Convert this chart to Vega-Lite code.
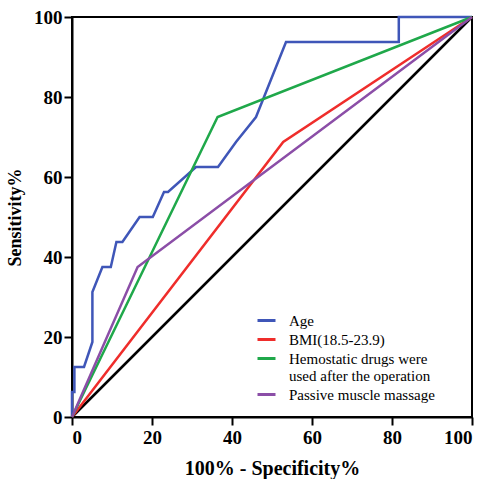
{
  "$schema": "https://vega.github.io/schema/vega-lite/v6.json",
  "width": 400,
  "height": 400,
  "autosize": "none",
  "padding": {"left": 72, "top": 17, "right": 19, "bottom": 62},
  "background": "white",
  "config": {
    "view": {"stroke": "black", "strokeWidth": 2},
    "font": "Liberation Serif",
    "axis": {
      "grid": false,
      "domainColor": "black",
      "domainWidth": 2,
      "tickColor": "black",
      "tickWidth": 2,
      "tickSize": 8,
      "labelColor": "black",
      "labelFont": "Liberation Serif",
      "labelFontSize": 19,
      "labelFontWeight": "bold",
      "titleColor": "black",
      "titleFont": "Liberation Serif",
      "titleFontWeight": "bold"
    },
    "legend": {
      "orient": "none",
      "legendX": 184,
      "legendY": 293,
      "padding": 0,
      "symbolType": "stroke",
      "symbolSize": 324,
      "symbolStrokeWidth": 3,
      "labelFont": "Liberation Serif",
      "labelFontSize": 15,
      "labelColor": "black",
      "labelOffset": 12,
      "labelLimit": 300,
      "rowPadding": 0
    }
  },
  "datasets": {
    "ref": [
      {"x": 0, "y": 0},
      {"x": 100, "y": 100}
    ],
    "roc": [
      {"series": "Age", "i": 1, "x": 0, "y": 0},
      {"series": "Age", "i": 2, "x": 0, "y": 6.25},
      {"series": "Age", "i": 3, "x": 0.6, "y": 6.25},
      {"series": "Age", "i": 4, "x": 0.6, "y": 12.5},
      {"series": "Age", "i": 5, "x": 3, "y": 12.5},
      {"series": "Age", "i": 6, "x": 5.1, "y": 18.75},
      {"series": "Age", "i": 7, "x": 5.1, "y": 31.25},
      {"series": "Age", "i": 8, "x": 7.6, "y": 37.5},
      {"series": "Age", "i": 9, "x": 9.7, "y": 37.5},
      {"series": "Age", "i": 10, "x": 11.1, "y": 43.75},
      {"series": "Age", "i": 11, "x": 12.6, "y": 43.75},
      {"series": "Age", "i": 12, "x": 16.9, "y": 50},
      {"series": "Age", "i": 13, "x": 20.2, "y": 50},
      {"series": "Age", "i": 14, "x": 23, "y": 56.25},
      {"series": "Age", "i": 15, "x": 24, "y": 56.25},
      {"series": "Age", "i": 16, "x": 31, "y": 62.5},
      {"series": "Age", "i": 17, "x": 36.5, "y": 62.5},
      {"series": "Age", "i": 18, "x": 41, "y": 68.75},
      {"series": "Age", "i": 19, "x": 46, "y": 75},
      {"series": "Age", "i": 20, "x": 53.5, "y": 93.75},
      {"series": "Age", "i": 21, "x": 81.7, "y": 93.75},
      {"series": "Age", "i": 22, "x": 81.7, "y": 100},
      {"series": "Age", "i": 23, "x": 100, "y": 100},
      {"series": "BMI(18.5-23.9)", "i": 1, "x": 0, "y": 0},
      {"series": "BMI(18.5-23.9)", "i": 2, "x": 52.8, "y": 68.75},
      {"series": "BMI(18.5-23.9)", "i": 3, "x": 100, "y": 100},
      {"series": "Hemostatic drugs were used after the operation", "i": 1, "x": 0, "y": 0},
      {"series": "Hemostatic drugs were used after the operation", "i": 2, "x": 36.4, "y": 75},
      {"series": "Hemostatic drugs were used after the operation", "i": 3, "x": 100, "y": 100},
      {"series": "Passive muscle massage", "i": 1, "x": 0, "y": 0},
      {"series": "Passive muscle massage", "i": 2, "x": 16.4, "y": 37.5},
      {"series": "Passive muscle massage", "i": 3, "x": 100, "y": 100}
    ]
  },
  "layer": [
    {
      "data": {"name": "ref"},
      "mark": {"type": "line", "color": "black", "strokeWidth": 2.5},
      "encoding": {
        "x": {
          "field": "x", "type": "quantitative",
          "scale": {"domain": [0, 100], "nice": false},
          "axis": {"values": [0, 20, 40, 60, 80, 100], "title": "100% - Specificity%", "titleFontSize": 20, "labelPadding": 3, "titlePadding": 11}
        },
        "y": {
          "field": "y", "type": "quantitative",
          "scale": {"domain": [0, 100], "nice": false},
          "axis": {"values": [0, 20, 40, 60, 80, 100], "title": "Sensitivity%", "titleFontSize": 18, "labelPadding": 2, "titlePadding": 9}
        }
      }
    },
    {
      "data": {"name": "roc"},
      "mark": {"type": "line", "strokeWidth": 2.5},
      "encoding": {
        "x": {"field": "x", "type": "quantitative"},
        "y": {"field": "y", "type": "quantitative"},
        "order": {"field": "i", "type": "quantitative"},
        "color": {
          "field": "series", "type": "nominal",
          "scale": {
            "domain": ["Age", "BMI(18.5-23.9)", "Hemostatic drugs were used after the operation", "Passive muscle massage"],
            "range": ["#3f56b8", "#ef2d2b", "#1fa84a", "#8b4ea7"]
          },
          "legend": {
            "title": null,
            "labelExpr": "datum.label == 'Hemostatic drugs were used after the operation' ? ['Hemostatic drugs were', 'used after the operation'] : datum.label"
          }
        }
      }
    }
  ]
}
